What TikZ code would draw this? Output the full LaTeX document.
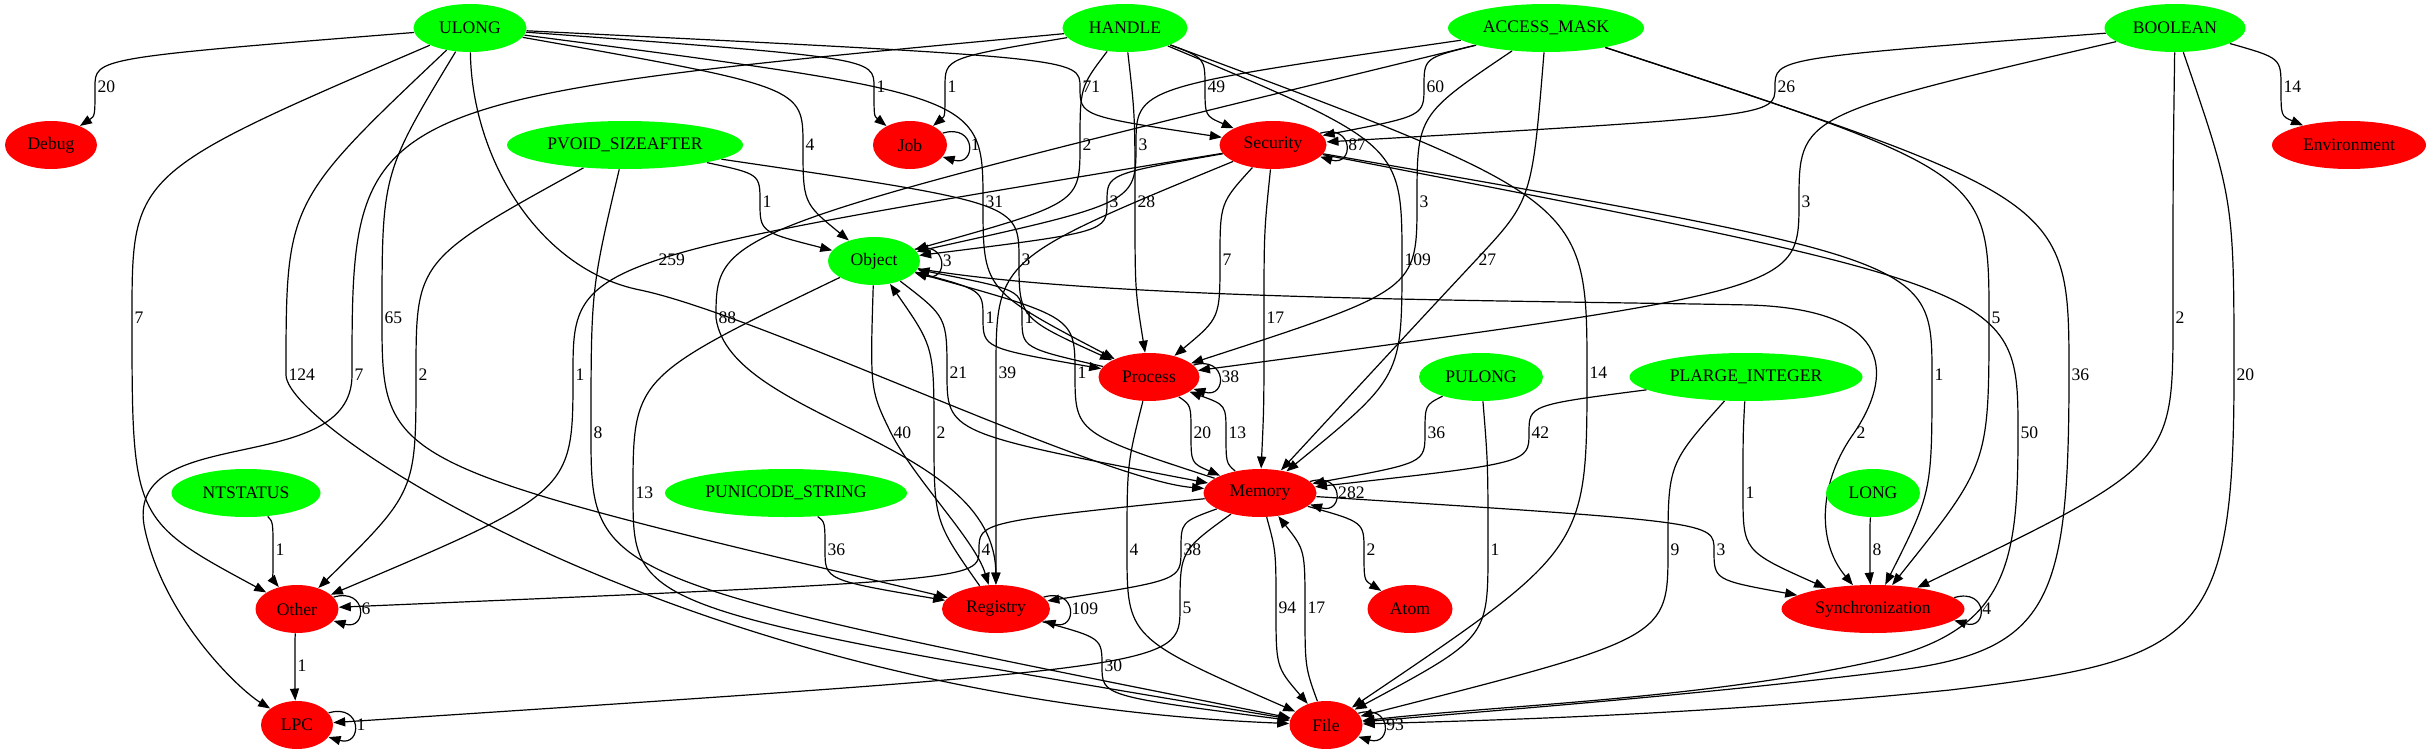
\documentclass[tikz,border=0pt]{standalone}
\usepackage{fontspec}
\setmainfont{Liberation Serif}
\usepackage{xcolor}
\usepackage{tikz}
\usetikzlibrary{arrows.meta, shapes.geometric, backgrounds}

\definecolor{typgreen}{RGB}{0,255,0}
\definecolor{catred}{RGB}{255,0,0}

\begin{document}
\begin{tikzpicture}[
  x=0.5pt, y=0.5pt,
  every node/.style={font=\fontsize{8.8}{10}\selectfont},
  typ/.style={ellipse, fill=typgreen, inner sep=0pt, minimum height=24pt},
  cat/.style={ellipse, fill=catred, inner sep=0pt, minimum height=24pt},
  lbl/.style={anchor=west, inner sep=1pt},
  arrow/.style={-{Triangle[length=6pt,width=4.5pt]}, line width=0.6pt}
]
\useasboundingbox (0,0) rectangle (2433,-755);

\node[typ, minimum width=56.5pt] (ulong) at (470,-28) {ULONG};
\node[typ, minimum width=62.5pt] (handle) at (1125,-28) {HANDLE};
\node[typ, minimum width=98pt] (mask) at (1546,-28) {ACCESS\_MASK};
\node[typ, minimum width=70.5pt] (boolean) at (2175,-28) {BOOLEAN};

\node[cat, minimum width=46pt] (debug) at (51,-145) {Debug};
\node[typ, minimum width=118pt] (pvoid) at (625,-145) {PVOID\_SIZEAFTER};
\node[cat, minimum width=37pt] (job) at (910,-145) {Job};
\node[cat, minimum width=53.5pt] (security) at (1273,-145) {Security};
\node[cat, minimum width=77pt] (env) at (2349,-145) {Environment};

\node[typ, minimum width=46pt] (object) at (874,-261) {Object};

\node[cat, minimum width=50.5pt] (process) at (1149,-377) {Process};
\node[typ, minimum width=62pt] (pulong) at (1481,-377) {PULONG};
\node[typ, minimum width=116.5pt] (plarge) at (1746,-377) {PLARGE\_INTEGER};

\node[typ, minimum width=74.5pt] (ntstatus) at (246,-493) {NTSTATUS};
\node[typ, minimum width=121pt] (punicode) at (786,-493) {PUNICODE\_STRING};
\node[cat, minimum width=56.5pt] (memory) at (1260,-493) {Memory};
\node[typ, minimum width=47pt] (long) at (1873,-493) {LONG};

\node[cat, minimum width=41.5pt] (other) at (297,-609) {Other};
\node[cat, minimum width=54pt] (registry) at (996,-609) {Registry};
\node[cat, minimum width=42.5pt] (atom) at (1410,-609) {Atom};
\node[cat, minimum width=91.5pt] (sync) at (1873,-609) {Synchronization};

\node[cat, minimum width=36pt] (lpc) at (297,-725) {LPC};
\node[cat, minimum width=36.5pt] (file) at (1326,-725) {File};

\begin{scope}[on background layer]
\draw[arrow] (ulong) .. controls (95,-58) .. (95,-87) node[lbl]{20} .. controls (95,-116) .. (debug);
\draw[arrow] (ulong) .. controls (874,-58) .. (874,-87) node[lbl]{1} .. controls (874,-116) .. (job);
\draw[arrow] (handle) .. controls (945,-58) .. (945,-87) node[lbl]{1} .. controls (945,-116) .. (job);
\draw[arrow] (ulong) .. controls (1080,-58) .. (1080,-87) node[lbl]{71} .. controls (1080,-116) .. (security);
\draw[arrow] (handle) .. controls (1205,-58) .. (1205,-87) node[lbl]{49} .. controls (1205,-116) .. (security);
\draw[arrow] (mask) .. controls (1424,-58) .. (1424,-87) node[lbl]{60} .. controls (1424,-116) .. (security);
\draw[arrow] (boolean) .. controls (1775,-58) .. (1775,-87) node[lbl]{26} .. controls (1775,-116) .. (security);
\draw[arrow] (boolean) .. controls (2281,-58) .. (2281,-87) node[lbl]{14} .. controls (2281,-116) .. (env);

\draw[arrow] (ulong) .. controls (803,-87) .. (803,-145) node[lbl]{4} .. controls (803,-203) .. (object);
\draw[arrow] (handle) .. controls (1080,-87) .. (1080,-145) node[lbl]{2} .. controls (1080,-203) .. (object);
\draw[arrow] (mask) .. controls (1136,-87) .. (1136,-145) node[lbl]{3} .. controls (1136,-203) .. (object);
\draw[arrow] (pvoid) .. controls (760,-174) .. (760,-202) node[lbl]{1} .. controls (760,-232) .. (object);
\draw[arrow] (security) .. controls (1107,-174) .. (1107,-202) node[lbl]{3} .. controls (1107,-232) .. (object);

\draw[arrow] (ulong) .. controls (983,-95) .. (983,-202) node[lbl]{31} .. controls (983,-290) .. (process);
\draw[arrow] (handle) .. controls (1135,-115) .. (1135,-202) node[lbl]{28} .. controls (1135,-290) .. (process);
\draw[arrow] (mask) .. controls (1417,-115) .. (1417,-202) node[lbl]{3} .. controls (1417,-290) .. (process);
\draw[arrow] (boolean) .. controls (1799,-115) .. (1799,-202) node[lbl]{3} .. controls (1799,-290) .. (process);
\draw[arrow] (pvoid) .. controls (1019,-203) .. (1019,-260) node[lbl]{3} .. controls (1019,-318) .. (process);
\draw[arrow] (security) .. controls (1220,-203) .. (1220,-260) node[lbl]{7} .. controls (1220,-318) .. (process);

\draw[arrow] (ulong) .. controls (472,-160) and (540,-270) .. (640,-290) node[lbl, xshift=8pt, yshift=15pt]{259} .. controls (760,-315) and (1100,-480) .. (memory);
\draw[arrow] (handle) .. controls (1402,-144) .. (1402,-260) node[lbl]{109} .. controls (1402,-377) .. (memory);
\draw[arrow] (mask) .. controls (1532,-200) .. (1476,-260) node[lbl]{27} .. controls (1420,-320) .. (memory);
\draw[arrow] (security) .. controls (1264,-232) .. (1264,-318) node[lbl]{17} .. controls (1264,-406) .. (memory);
\draw[arrow] (object) .. controls (947,-317) .. (947,-373) node[lbl]{21} .. controls (947,-433) .. (memory);
\draw[arrow] (process) .. controls (1191,-405) .. (1191,-433) node[lbl]{20} .. controls (1191,-463) .. (memory);
\draw[arrow] (pulong) .. controls (1425,-405) .. (1425,-433) node[lbl]{36} .. controls (1425,-463) .. (memory);
\draw[arrow] (plarge) .. controls (1529,-405) .. (1529,-433) node[lbl]{42} .. controls (1529,-463) .. (memory);
\draw[arrow] (file) .. controls (1305,-667) .. (1305,-608) node[lbl]{17} .. controls (1305,-550) .. (memory);

\draw[arrow] (object) .. controls (983,-290) .. (983,-318) node[lbl]{1} .. controls (983,-348) .. (process);
\draw[arrow] (process) .. controls (1022,-348) .. (1022,-318) node[lbl]{1} .. controls (1022,-290) .. (object);
\draw[arrow] (memory) .. controls (1075,-433) .. (1075,-373) node[lbl]{1} .. controls (1075,-317) .. (object);
\draw[arrow] (memory) .. controls (1226,-463) .. (1226,-433) node[lbl]{13} .. controls (1226,-405) .. (process);
\draw[arrow] (registry) .. controls (934,-521) .. (934,-433) node[lbl]{2} .. controls (934,-347) .. (object);

\draw[arrow] (ulong) .. controls (132,-173) .. (132,-318) node[lbl]{7} .. controls (132,-520) .. (other);
\draw[arrow] (ulong) .. controls (382,-173) .. (382,-318) node[lbl]{65} .. controls (382,-464) .. (registry);
\draw[arrow] (mask) .. controls (716,-230) .. (716,-318) node[lbl]{88} .. controls (730,-420) and (995,-440) .. (registry);
\draw[arrow] (mask) .. controls (1989,-173) .. (1989,-318) node[lbl]{5} .. controls (1989,-464) .. (sync);
\draw[arrow] (boolean) .. controls (2173,-173) .. (2173,-318) node[lbl]{2} .. controls (2173,-464) .. (sync);

\draw[arrow] (ulong) .. controls (286,-202) .. (286,-375) node[lbl]{124} .. controls (286,-430) and (700,-700) .. (file);
\draw[arrow] (handle) .. controls (352,-100) .. (352,-375) node[lbl]{7} .. controls (352,-480) and (120,-420) .. (145,-530) .. controls (165,-620) and (240,-690) .. (lpc);
\draw[arrow] (pvoid) .. controls (416,-260) .. (416,-375) node[lbl]{2} .. controls (416,-492) .. (other);
\draw[arrow] (security) .. controls (573,-260) .. (573,-375) node[lbl]{1} .. controls (573,-492) .. (other);
\draw[arrow] (security) .. controls (996,-259) .. (996,-373) node[lbl]{39} .. controls (996,-491) .. (registry);
\draw[arrow] (handle) .. controls (1587,-200) .. (1587,-373) node[lbl]{14} .. controls (1587,-549) .. (file);
\draw[arrow] (security) .. controls (1932,-260) .. (1932,-375) node[lbl]{1} .. controls (1932,-492) .. (sync);
\draw[arrow] (mask) .. controls (2069,-200) .. (2069,-375) node[lbl]{36} .. controls (2069,-600) and (2050,-650) .. (1900,-670) .. controls (1700,-695) and (1500,-710) .. (file);
\draw[arrow] (boolean) .. controls (2234,-200) .. (2234,-375) node[lbl]{20} .. controls (2234,-640) and (2200,-660) .. (1950,-690) .. controls (1700,-715) and (1500,-720) .. (file);

\draw[arrow] (pvoid) .. controls (591,-289) .. (591,-433) node[lbl]{8} .. controls (591,-579) .. (file);
\draw[arrow] (object) .. controls (870,-390) .. (891,-433) node[lbl]{40} .. controls (915,-480) and (975,-540) .. (registry);
\draw[arrow] (object) .. controls (1100,-300) and (1500,-300) .. (1750,-305) .. controls (1900,-310) and (1890,-380) .. (1854,-433) node[lbl]{2} .. controls (1820,-480) and (1815,-540) .. (sync);
\draw[arrow] (security) .. controls (2018,-289) .. (2018,-433) node[lbl]{50} .. controls (2018,-560) and (2010,-630) .. (1880,-660) .. controls (1700,-700) and (1500,-705) .. (file);

\draw[arrow] (object) .. controls (633,-377) .. (633,-493) node[lbl]{13} .. controls (633,-609) .. (file);
\draw[arrow] (plarge) .. controls (1743,-435) .. (1743,-493) node[lbl]{1} .. controls (1743,-551) .. (sync);

\draw[arrow] (ntstatus) .. controls (273,-522) .. (273,-550) node[lbl]{1} .. controls (273,-580) .. (other);
\draw[arrow] (punicode) .. controls (825,-522) .. (825,-550) node[lbl]{36} .. controls (825,-580) .. (registry);
\draw[arrow] (memory) .. controls (979,-522) .. (979,-550) node[lbl]{4} .. controls (979,-580) .. (other);
\draw[arrow] (process) .. controls (1127,-464) .. (1127,-550) node[lbl]{4} .. controls (1127,-638) .. (file);
\draw[arrow] (memory) .. controls (1181,-522) .. (1181,-550) node[lbl]{38} .. controls (1181,-580) .. (registry);
\draw[arrow] (memory) .. controls (1364,-522) .. (1364,-550) node[lbl]{2} .. controls (1364,-580) .. (atom);
\draw[arrow] (pulong) .. controls (1488,-464) .. (1488,-550) node[lbl]{1} .. controls (1488,-638) .. (file);
\draw[arrow] (plarge) .. controls (1668,-464) .. (1668,-550) node[lbl]{9} .. controls (1668,-638) .. (file);
\draw[arrow] (memory) .. controls (1714,-522) .. (1714,-550) node[lbl]{3} .. controls (1714,-580) .. (sync);
\draw[arrow] (long) .. controls (1870,-522) .. (1870,-550) node[lbl]{8} .. controls (1870,-580) .. (sync);

\draw[arrow] (memory) .. controls (1180,-551) .. (1180,-608) node[lbl]{5} .. controls (1180,-667) .. (lpc);
\draw[arrow] (memory) .. controls (1276,-551) .. (1276,-608) node[lbl]{94} .. controls (1276,-667) .. (file);
\draw[arrow] (other) .. controls (295,-638) .. (295,-666) node[lbl]{1} .. controls (295,-696) .. (lpc);
\draw[arrow] (registry) .. controls (1102,-638) .. (1102,-666) node[lbl]{30} .. controls (1102,-696) .. (file);

\draw[arrow] (job.20.5) .. controls +(17pt,5pt) and +(17pt,-5pt) .. node[lbl]{1} (job.-20.5);
\draw[arrow] (security.14.5) .. controls +(17pt,5pt) and +(17pt,-5pt) .. node[lbl]{87} (security.-14.5);
\draw[arrow] (object.16.8) .. controls +(17pt,5pt) and +(17pt,-5pt) .. node[lbl]{3} (object.-16.8);
\draw[arrow] (process.15.3) .. controls +(17pt,5pt) and +(17pt,-5pt) .. node[lbl]{38} (process.-15.3);
\draw[arrow] (memory.13.8) .. controls +(17pt,5pt) and +(17pt,-5pt) .. node[lbl]{282} (memory.-13.8);
\draw[arrow] (other.18.4) .. controls +(17pt,5pt) and +(17pt,-5pt) .. node[lbl]{6} (other.-18.4);
\draw[arrow] (registry.14.4) .. controls +(17pt,5pt) and +(17pt,-5pt) .. node[lbl]{109} (registry.-14.4);
\draw[arrow] (sync.8.6) .. controls +(17pt,5pt) and +(17pt,-5pt) .. node[lbl]{4} (sync.-8.6);
\draw[arrow] (lpc.21) .. controls +(17pt,5pt) and +(17pt,-5pt) .. node[lbl]{1} (lpc.-21);
\draw[arrow] (file.20.8) .. controls +(17pt,5pt) and +(17pt,-5pt) .. node[lbl]{93} (file.-20.8);
\end{scope}
\end{tikzpicture}
\end{document}
